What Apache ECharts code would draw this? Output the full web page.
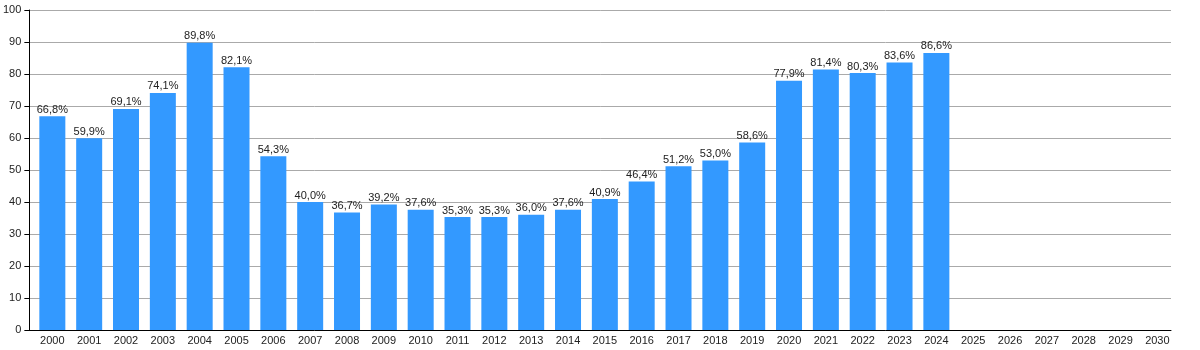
<!DOCTYPE html>
<html><head><meta charset="utf-8">
<script src="https://cdn.jsdelivr.net/npm/echarts@6/dist/echarts.min.js"></script>
<style>html,body{margin:0;padding:0;background:#fff}#c{width:1200px;height:350px}</style>
</head><body><div id="c"></div>
<script>
const categories = ['2000','2001','2002','2003','2004','2005','2006','2007','2008','2009','2010','2011','2012','2013','2014','2015','2016','2017','2018','2019','2020','2021','2022','2023','2024','2025','2026','2027','2028','2029','2030'];
const values = [66.8,59.9,69.1,74.1,89.8,82.1,54.3,40.0,36.7,39.2,37.6,35.3,35.3,36.0,37.6,40.9,46.4,51.2,53.0,58.6,77.9,81.4,80.3,83.6,86.6,null,null,null,null,null,null];
const yTicks = [0,10,20,30,40,50,60,70,80,90,100];
const idx = categories.map((c,i)=>i);
const chart = echarts.init(document.getElementById('c'), null, {renderer:'canvas'});
chart.setOption({
  animation:false,
  grid:{left:29,right:29,top:10,bottom:20,containLabel:false},
  xAxis:{type:'value',min:-0.624,max:30.37,
    axisLine:{show:true,onZero:false,lineStyle:{color:'#000',width:1}},
    axisTick:{show:false},
    splitLine:{show:false},
    axisLabel:{customValues:idx,color:'#222',fontSize:11,fontFamily:'Liberation Sans, Arial, sans-serif',margin:5,
      formatter:v=>categories[Math.round(v)]||''}},
  yAxis:{type:'value',min:0,max:100,interval:10,
    axisLine:{show:true,onZero:false,lineStyle:{color:'#000',width:1}},
    axisTick:{show:true,length:5,lineStyle:{color:'#000'}},
    splitLine:{lineStyle:{color:'#aaa',width:1}},
    axisLabel:{color:'#222',fontSize:11,fontFamily:'Liberation Sans, Arial, sans-serif',margin:8,
      formatter:v=>yTicks.includes(v)?String(v):''}},
  series:[{type:'bar',data:values.map((v,i)=>[i,v]),barWidth:26,
    itemStyle:{color:'#3399ff'},
    label:{show:true,position:'top',distance:1,color:'#222',fontSize:11,fontFamily:'Liberation Sans, Arial, sans-serif',
      formatter:p=>p.value[1]==null?'':p.value[1].toFixed(1).replace('.',',')+'%'}}]
});
</script></body></html>
